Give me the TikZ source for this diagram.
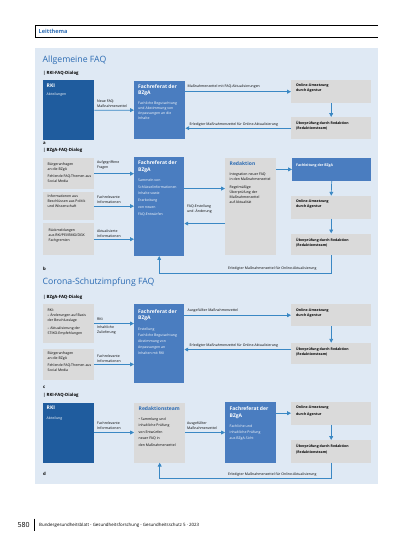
\documentclass[tikz,border=0pt]{standalone}
\usepackage{fontspec}
\setmainfont{Open Sans}
\usepackage{tikz}
\usetikzlibrary{arrows.meta,calc,positioning}

\definecolor{rkiblue}{HTML}{1F5C9E}
\definecolor{fachblue}{HTML}{4A7DC0}
\definecolor{panelblue}{HTML}{DFE9F4}
\definecolor{boxgray}{HTML}{DADADA}
\definecolor{flowblue}{HTML}{3A88C4}
\definecolor{headblue}{HTML}{2B6BB3}

\begin{document}
\begin{tikzpicture}[x=1pt,y=-1pt]

	\tikzstyle dark box=[fill=rkiblue, anchor=north west, inner sep=0];
	\tikzstyle fach box=[fill=fachblue, anchor=north west, inner sep=0];
	\tikzstyle gray box=[fill=boxgray, anchor=north west, inner sep=0];
	\tikzstyle head text=[anchor=north west, inner sep=0, align=left, font=\bfseries\fontsize{5}{6.6}\selectfont];
	\tikzstyle body text=[anchor=north west, inner sep=0, align=left, font=\fontsize{3.5}{5}\selectfont];
	\tikzstyle flow label=[anchor=south west, inner sep=0, align=left, font=\fontsize{3.5}{5}\selectfont];
	\tikzstyle dialog text=[anchor=west, inner sep=0, font=\bfseries\fontsize{4.3}{5}\selectfont];
	\tikzstyle section title=[anchor=west, inner sep=0, text=headblue, font=\fontsize{8.7}{10}\selectfont];
	\tikzstyle flow=[draw=flowblue, line width=0.7pt, -{Triangle[length=3.8pt,width=3.8pt]}];

	\useasboundingbox (0,0) rectangle (413,550);

	% Kopf und Hintergrund
	\draw[line width=0.8pt] (378,25) -- (35,25) -- (35,37) -- (378,37);
	\node[anchor=west, inner sep=0, text=headblue, font=\bfseries\fontsize{5.6}{6}\selectfont] (leit) at (38.5,31) {Leitthema};
	\fill[panelblue] (35,48) rectangle (378,484);

	%% a
	\node[section title] (titleA) at (42.5,60) {Allgemeine FAQ};
	\node[dialog text] (dialogA) at (43,73) {| RKI-FAQ-Dialog};

	\node[dark box, minimum width=51pt, minimum height=60pt] (rkiA) at (43,80) {};
	\node[head text, white] at ($(rkiA.north west)+(3.5,4)$) {RKI};
	\node[body text, white] at ($(rkiA.north west)+(3.5,12.5)$) {Abteilungen};

	\node[fach box, minimum width=51pt, minimum height=58.5pt] (fachA) at (134,80.7) {};
	\node[head text, white] at ($(fachA.north west)+(4,3.5)$) {Fachreferat der\\BZgA};
	\node[body text, white] at ($(fachA.north west)+(4,21)$) {Fachliche Begutachtung\\und Abstimmung von\\Anpassungen an die\\Inhalte};

	\node[gray box, minimum width=80pt, minimum height=23pt] (onlineA) at (291,80) {};
	\node[body text, font=\bfseries\fontsize{3.5}{5}\selectfont] at ($(onlineA.north west)+(5,4)$) {Online-Umsetzung\\durch Agentur};
	\node[gray box, minimum width=80pt, minimum height=22pt] (pruefA) at (291,117) {};
	\node[body text, font=\bfseries\fontsize{3.5}{5}\selectfont] at ($(pruefA.north west)+(5,4.5)$) {Überprüfung durch Redaktion\\(Redaktionsteam)};

	\draw[flow] (rkiA.east) -- (fachA.west);
	\node[flow label] (labA1) at (97,107.5) {Neue FAQ:\\Maßnahmenzettel};
	\draw[flow] (fachA.east |- onlineA.west) -- (onlineA.west);
	\node[flow label] (labA2) at (187.5,89) {Maßnahmenzettel mit FAQ-Aktualisierungen};
	\draw[flow] (onlineA.south) -- (pruefA.north);
	\draw[flow] (pruefA.west) -- (fachA.east |- pruefA.west);
	\node[flow label] (labA3) at (189.5,126.5) {Erledigter Maßnahmenzettel für Online-Aktualisierung};

	\node[dialog text] (letterA) at (43,143) {a};

	%% b
	\node[dialog text] (dialogB) at (43,150.7) {| BZgA-FAQ-Dialog};

	\node[gray box, minimum width=51pt, minimum height=31pt] (srcB1) at (43,158) {};
	\node[body text] at ($(srcB1.north west)+(4.5,5)$) {Bürgeranfragen\\an die BZgA\\[1.5pt]Fehlende FAQ-Themen aus\\Social Media};
	\node[gray box, minimum width=51pt, minimum height=28.5pt] (srcB2) at (43,191.7) {};
	\node[body text] at ($(srcB2.north west)+(4.5,3)$) {Informationen aus\\Beschlüssen aus Politik\\und Wissenschaft};
	\node[gray box, minimum width=51pt, minimum height=32pt] (srcB3) at (43,223) {};
	\node[body text] at ($(srcB3.north west)+(5.5,6)$) {Rückmeldungen\\aus RKI/PEI/BMG/DGK\\Fachgremien};

	\node[fach box, minimum width=50pt, minimum height=98.7pt] (fachB) at (134,157) {};
	\node[head text, white] at ($(fachB.north west)+(4,3.5)$) {Fachreferat der\\BZgA};
	\node[body text, white, font=\fontsize{3.5}{6.8}\selectfont] at ($(fachB.north west)+(4,21.5)$) {Sammeln von\\Schlüsselinformationen\\Inhalte sowie\\Erarbeitung\\von neuen\\FAQ-Entwürfen};

	\node[gray box, minimum width=51pt, minimum height=97.3pt] (redB) at (225,157.7) {};
	\node[head text, text=headblue] at ($(redB.north west)+(4.5,3.5)$) {Redaktion};
	\node[body text] at ($(redB.north west)+(4.5,15)$) {Integration neuer FAQ\\in den Maßnahmenzettel\\[3pt]Regelmäßige\\Überprüfung der\\Maßnahmenzettel\\auf Aktualität};

	\node[fach box, minimum width=79pt, minimum height=23pt] (leitB) at (292,157.7) {};
	\node[body text, white, font=\bfseries\fontsize{3.5}{5}\selectfont] at ($(leitB.north west)+(4,5.5)$) {Fachleitung der BZgA};
	\node[gray box, minimum width=80pt, minimum height=22.6pt] (onlineB) at (291,195.7) {};
	\node[body text, font=\bfseries\fontsize{3.5}{5}\selectfont] at ($(onlineB.north west)+(5,4.3)$) {Online-Umsetzung\\durch Agentur};
	\node[gray box, minimum width=80pt, minimum height=21.7pt] (pruefB) at (291,233.3) {};
	\node[body text, font=\bfseries\fontsize{3.5}{5}\selectfont] at ($(pruefB.north west)+(5,4.4)$) {Überprüfung durch Redaktion\\(Redaktionsteam)};

	\draw[flow] (srcB1.east) -- (fachB.west |- srcB1.east);
	\node[flow label] (labB1) at (97,169.5) {Aufgegriffene\\Fragen};
	\draw[flow] (srcB2.east) -- (fachB.west |- srcB2.east);
	\node[flow label] (labB2) at (97,203.5) {Fachrelevante\\Informationen};
	\draw[flow] (srcB3.east) -- (fachB.west |- srcB3.east);
	\node[flow label] (labB3) at (97,237.5) {Aktualisierte\\Informationen};

	\draw[flow] ([yshift=18pt]fachB.east) -- ([yshift=18pt]fachB.east -| redB.west);
	\draw[flow] ([yshift=-17pt]redB.west) -- ([yshift=-17pt]redB.west -| fachB.east);
	\node[anchor=west, inner sep=0, align=left, font=\fontsize{3.5}{5}\selectfont] (labB4) at (187,209) {FAQ-Erstellung\\und -Änderung};

	\draw[flow] (redB.east |- leitB.west) -- (leitB.west);
	\draw[flow] (leitB.south) -- (onlineB.north);
	\draw[flow] (onlineB.south) -- (pruefB.north);
	\draw[flow] (pruefB.south) -- ++(0,17.7) -| (fachB.south);
	\node[flow label] (labB5) at (228,271) {Erledigter Maßnahmenzettel für Online-Aktualisierung};

	\node[dialog text] (letterB) at (43,269) {b};

	%% c
	\node[section title] (titleC) at (42.5,282.3) {Corona-Schutzimpfung FAQ};
	\node[dialog text] (dialogC) at (43,297.3) {| BZgA-FAQ-Dialog};

	\node[gray box, minimum width=51pt, minimum height=38.7pt] (srcC1) at (43,304) {};
	\node[body text, font=\fontsize{3.5}{5.3}\selectfont] at ($(srcC1.north west)+(4.5,4.5)$) {RKI:\\– Änderungen auf Basis\\der Beschlusslage\\[2pt]– Aktualisierung der\\STIKO-Empfehlungen};
	\node[gray box, minimum width=51pt, minimum height=31.7pt] (srcC2) at (43,348.3) {};
	\node[body text] at ($(srcC2.north west)+(4.5,3.5)$) {Bürgeranfragen\\an die BZgA\\[1.5pt]Fehlende FAQ-Themen aus\\Social Media};

	\node[fach box, minimum width=50pt, minimum height=79pt] (fachC) at (134,304) {};
	\node[head text, white] at ($(fachC.north west)+(4,5)$) {Fachreferat der\\BZgA};
	\node[body text, white, font=\fontsize{3.5}{6}\selectfont] at ($(fachC.north west)+(4,23.5)$) {Erstellung\\Fachliche Begutachtung\\Abstimmung von\\Anpassungen an\\Inhalten mit RKI};

	\node[gray box, minimum width=80pt, minimum height=22pt] (onlineC) at (291,304) {};
	\node[body text, font=\bfseries\fontsize{3.5}{5}\selectfont] at ($(onlineC.north west)+(5,5)$) {Online-Umsetzung\\durch Agentur};
	\node[gray box, minimum width=80pt, minimum height=21.3pt] (pruefC) at (291,342.7) {};
	\node[body text, font=\bfseries\fontsize{3.5}{5}\selectfont] at ($(pruefC.north west)+(5,4)$) {Überprüfung durch Redaktion\\(Redaktionsteam)};

	\draw[flow] (srcC1.east) -- (fachC.west |- srcC1.east);
	\node[flow label] (labC1) at (97,321) {RKI:};
	\node[body text] (labC2) at (97,325.5) {Inhaltliche\\Zulieferung};
	\draw[flow] (srcC2.east) -- (fachC.west |- srcC2.east);
	\node[flow label] (labC3) at (97,362.5) {Fachrelevante\\Informationen};

	\draw[flow] (fachC.east |- onlineC.west) -- (onlineC.west);
	\node[flow label] (labC4) at (187.5,313) {Ausgefüllter Maßnahmenzettel};
	\draw[flow] (onlineC.south) -- (pruefC.north);
	\draw[flow] ([yshift=4pt]pruefC.west) -- ([yshift=4pt]pruefC.west -| fachC.east);
	\node[flow label] (labC5) at (189.5,347.5) {Erledigter Maßnahmenzettel für Online-Aktualisierung};

	\node[dialog text] (letterC) at (43,387.3) {c};

	%% d
	\node[dialog text] (dialogD) at (43,395) {| RKI-FAQ-Dialog};

	\node[dark box, minimum width=51pt, minimum height=60pt] (rkiD) at (43,402.3) {};
	\node[head text, white] at ($(rkiD.north west)+(3.5,3)$) {RKI};
	\node[body text, white] at ($(rkiD.north west)+(3.5,14)$) {Abteilung};

	\node[gray box, minimum width=51pt, minimum height=60pt] (redD) at (134,402.3) {};
	\node[head text, text=headblue] at ($(redD.north west)+(4.5,4.5)$) {Redaktionsteam};
	\node[body text, font=\fontsize{3.5}{6.6}\selectfont] at ($(redD.north west)+(4.5,15)$) {• Sammlung und\\inhaltliche Prüfung\\von Entwürfen\\neuer FAQ in\\den Maßnahmenzettel};

	\node[fach box, minimum width=51pt, minimum height=60.6pt] (fachD) at (225,401.7) {};
	\node[head text, white] at ($(fachD.north west)+(4.5,5)$) {Fachreferat der\\BZgA};
	\node[body text, white, font=\fontsize{3.5}{6.3}\selectfont] at ($(fachD.north west)+(4.5,22.5)$) {Fachliche und\\inhaltliche Prüfung\\aus BZgA-Sicht};

	\node[gray box, minimum width=80pt, minimum height=22.6pt] (onlineD) at (291,401.7) {};
	\node[body text, font=\bfseries\fontsize{3.5}{6.5}\selectfont] at ($(onlineD.north west)+(5,4)$) {Online-Umsetzung\\durch Agentur};
	\node[gray box, minimum width=80pt, minimum height=22.3pt] (pruefD) at (291,440) {};
	\node[body text, font=\bfseries\fontsize{3.5}{6}\selectfont] at ($(pruefD.north west)+(5,4.5)$) {Überprüfung durch Redaktion\\(Redaktionsteam)};

	\draw[flow] (rkiD.east) -- (redD.west);
	\node[flow label] (labD1) at (97,429.5) {Fachrelevante\\Informationen};
	\draw[flow] (redD.east) -- (fachD.west |- redD.east);
	\node[flow label] (labD2) at (187,429.5) {Ausgefüllter\\Maßnahmenzettel};
	\draw[flow] (fachD.east |- onlineD.west) -- (onlineD.west);
	\draw[flow] (onlineD.south) -- (pruefD.north);
	\draw[flow] (pruefD.south) -- ++(0,16) -| (redD.south);
	\node[flow label] (labD3) at (228,476.5) {Erledigter Maßnahmenzettel für Online-Aktualisierung};

	\node[dialog text] (letterD) at (43,474.3) {d};

	% Fusszeile
	\node[anchor=west, inner sep=0, font=\fontsize{7}{8}\selectfont] (page) at (17.5,525) {580};
	\draw[line width=0.6pt] (34.3,518.5) -- (34.3,531);
	\node[anchor=west, inner sep=0, font=\fontsize{4.4}{5}\selectfont] (journal) at (39,525) {Bundesgesundheitsblatt - Gesundheitsforschung - Gesundheitsschutz 5 · 2023};

\end{tikzpicture}
\end{document}
